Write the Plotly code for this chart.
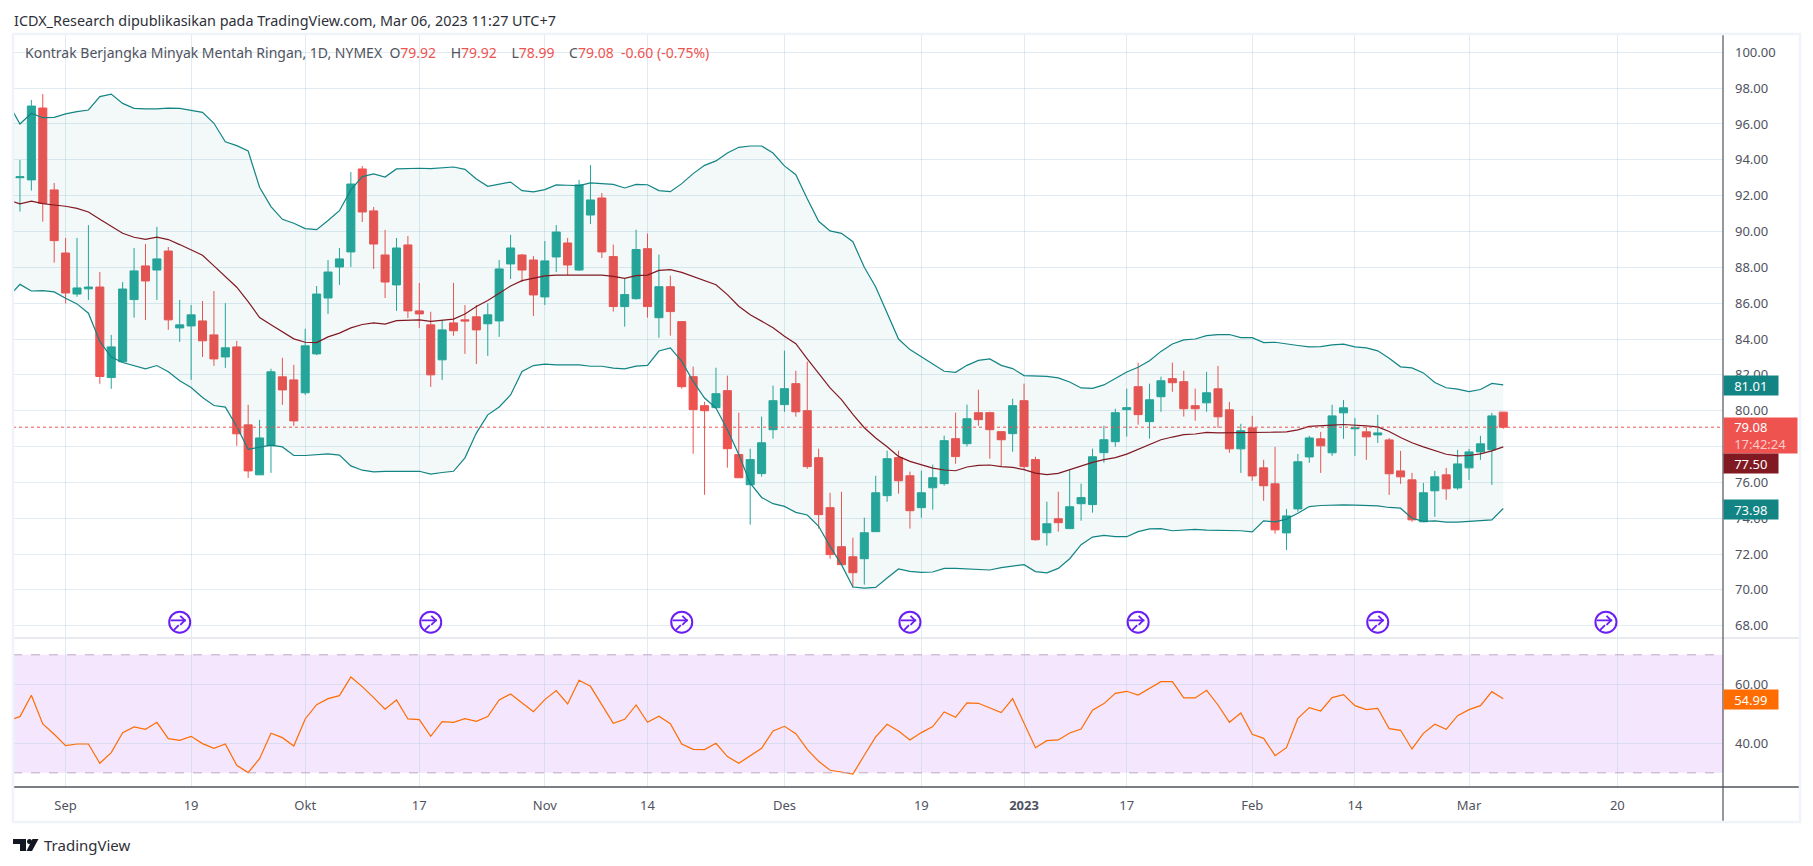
import plotly.graph_objects as go

W, H = 1813, 866
FONT = "Noto Sans"

bar_idx = list(range(-4, 127))
opens = [93.0, 92.88, 96.89, 92.32, 88.8, 86.51, 86.8, 86.9, 81.85, 82.73,
         86.2, 88.08, 87.85, 88.91, 84.62, 84.73, 85.01, 84.23, 83.0, 83.56,
         79.21, 76.42, 78.04, 81.89, 81.72, 81.0, 83.17, 86.29, 88.02, 88.86,
         93.49, 91.15, 88.69, 87.02, 89.25, 85.57, 84.79, 82.84, 84.9, 85.07,
         85.24, 84.85, 85.01, 88.19, 88.69, 88.41, 86.35, 88.58, 89.36, 87.85,
         90.92, 91.87, 88.6, 85.81, 86.25, 89.04, 85.19, 86.92, 84.97, 81.9,
         80.28, 80.17, 81.12, 77.55, 75.87, 76.49, 78.94, 80.34, 81.51, 80.0,
         77.38, 74.59, 72.41, 71.85, 71.74, 73.25, 75.26, 77.38, 76.37, 74.59,
         75.7, 75.93, 78.44, 78.16, 79.89, 79.89, 78.83, 78.72, 80.56, 77.27,
         73.19, 73.97, 73.42, 74.81, 74.76, 77.66, 78.27, 80.06, 81.34, 79.39,
         80.78, 81.79, 81.62, 80.28, 80.44, 81.22, 80.05, 77.87, 79.04, 76.81,
         75.92, 73.18, 74.52, 77.42, 78.43, 77.65, 79.88, 78.99, 78.82, 78.65,
         78.37, 76.64, 76.14, 73.8, 75.53, 76.42, 75.69, 76.81, 77.7, 77.82,
         79.92]
highs = [93.99, 97.34, 97.67, 92.71, 89.64, 89.64, 90.36, 87.74, 84.23, 87.18,
         89.08, 89.3, 90.26, 89.14, 86.18, 85.9, 86.12, 86.68, 86.0, 83.9,
         80.33, 79.49, 82.34, 82.95, 82.56, 84.57, 86.96, 88.41, 89.08, 93.32,
         93.66, 91.37, 90.09, 89.64, 89.75, 87.13, 85.52, 85.01, 87.13, 85.9,
         85.9, 86.0, 88.41, 89.81, 88.75, 88.63, 89.47, 90.36, 89.64, 92.88,
         93.71, 92.15, 89.27, 87.37, 90.1, 89.88, 88.71, 87.54, 84.97, 82.46,
         80.5, 82.4, 81.96, 79.89, 77.88, 79.67, 81.4, 83.35, 82.23, 82.74,
         77.88, 75.42, 75.48, 72.91, 74.03, 76.37, 77.77, 77.77, 76.6, 76.65,
         76.99, 78.61, 79.89, 80.34, 81.17, 79.94, 78.83, 80.67, 81.51, 77.43,
         74.92, 75.48, 76.71, 75.93, 77.88, 79.16, 80.11, 81.23, 82.68, 81.51,
         81.9, 82.68, 82.23, 81.23, 82.17, 82.5, 80.49, 79.27, 79.71, 77.26,
         77.98, 74.52, 77.59, 78.6, 78.82, 80.33, 80.6, 79.6, 79.1, 79.77,
         78.48, 77.76, 76.53, 75.97, 76.64, 76.81, 77.82, 77.87, 78.6, 79.88,
         79.92]
lows = [91.11, 92.28, 90.55, 88.26, 85.99, 86.36, 86.18, 81.5, 81.22, 82.7,
        85.19, 85.06, 86.18, 84.51, 83.84, 81.72, 83.0, 82.5, 82.39, 78.04,
        76.25, 76.42, 76.53, 80.33, 79.15, 80.88, 83.1, 85.4, 87.02, 88.02,
        90.53, 87.91, 86.29, 85.57, 85.17, 84.62, 81.33, 81.72, 84.18, 83.17,
        82.61, 83.06, 84.12, 87.35, 87.18, 85.29, 85.9, 87.74, 87.57, 87.8,
        90.42, 88.52, 85.53, 84.69, 86.2, 85.19, 84.08, 84.19, 81.23, 77.6,
        75.31, 80.11, 76.82, 76.26, 73.64, 76.32, 78.44, 79.94, 79.67, 76.76,
        73.42, 71.74, 71.41, 70.12, 70.29, 73.25, 74.92, 75.37, 73.42, 74.03,
        74.48, 75.82, 77.04, 78.0, 79.16, 77.32, 76.88, 77.71, 76.71, 72.75,
        72.47, 73.25, 73.42, 73.86, 74.31, 77.1, 77.99, 78.55, 79.22, 78.44,
        79.94, 81.06, 79.67, 79.44, 79.94, 79.04, 77.65, 76.53, 76.09, 74.97,
        73.13, 72.23, 74.36, 77.09, 76.53, 77.48, 78.43, 77.48, 77.26, 78.2,
        75.3, 75.92, 73.8, 73.8, 74.08, 75.03, 75.58, 76.14, 77.26, 75.86,
        78.99]
closes = [93.05, 97.0, 91.57, 89.49, 86.57, 86.85, 86.9, 81.91, 83.56, 86.79,
          87.8, 87.24, 88.47, 85.07, 84.79, 85.35, 83.9, 82.89, 83.51, 78.71,
          76.64, 78.48, 82.17, 81.16, 79.43, 83.62, 86.51, 87.74, 88.47, 92.65,
          91.09, 89.3, 87.18, 89.08, 85.57, 85.4, 82.0, 84.51, 84.46, 85.01,
          84.51, 85.35, 87.91, 89.08, 87.85, 86.46, 88.36, 89.97, 88.13, 92.6,
          91.76, 88.86, 85.81, 86.48, 88.99, 85.81, 86.92, 85.53, 81.34, 80.06,
          80.0, 80.95, 77.88, 76.26, 77.27, 78.21, 80.56, 81.23, 79.94, 76.88,
          74.2, 71.97, 71.41, 70.96, 73.19, 75.42, 77.32, 76.09, 74.42, 75.42,
          76.26, 78.33, 77.44, 79.55, 79.5, 78.94, 78.38, 80.28, 76.88, 72.8,
          73.69, 73.75, 74.64, 75.15, 77.43, 78.38, 79.89, 80.17, 79.78, 80.61,
          81.67, 81.56, 80.11, 80.11, 81.0, 79.66, 77.87, 78.88, 76.36, 75.81,
          73.35, 74.13, 77.15, 78.48, 78.04, 79.71, 80.16, 79.04, 78.54, 78.76,
          76.48, 76.31, 73.91, 75.42, 76.31, 75.64, 77.03, 77.7, 78.15, 79.71,
          79.08]

band_idx = list(range(-5, 127))
bb_upper = [97.15, 96.0, 96.6, 96.35, 96.37, 96.56, 96.69, 96.78, 97.53, 97.67,
            97.15, 96.87, 96.84, 96.84, 96.89, 96.87, 96.76, 96.65, 96.04, 95.01,
            94.79, 94.49, 92.47, 91.39, 90.68, 90.46, 90.16, 90.1, 90.61, 91.16,
            92.32, 93.06, 93.21, 93.04, 93.49, 93.53, 93.53, 93.51, 93.56, 93.6,
            93.47, 92.93, 92.52, 92.65, 92.76, 92.28, 92.21, 92.34, 92.6, 92.58,
            92.56, 92.71, 92.67, 92.63, 92.43, 92.63, 92.61, 92.28, 92.22, 92.67,
            93.23, 93.69, 93.94, 94.38, 94.7, 94.77, 94.77, 94.38, 93.66, 93.17,
            91.83, 90.57, 90.03, 89.9, 89.43, 88.0, 86.9, 85.45, 84.0, 83.41,
            83.02, 82.63, 82.2, 82.14, 82.53, 82.81, 82.89, 82.53, 82.35, 81.96,
            81.92, 81.92, 81.83, 81.6, 81.27, 81.25, 81.44, 81.81, 82.16, 82.42,
            82.79, 83.31, 83.72, 83.95, 84.0, 84.19, 84.25, 84.25, 84.08, 84.08,
            83.8, 83.82, 83.75, 83.64, 83.56, 83.58, 83.67, 83.71, 83.56, 83.51,
            83.34, 82.93, 82.45, 82.39, 82.11, 81.57, 81.28, 81.2, 81.07, 81.18,
            81.52, 81.44]
bb_basis = [91.75, 91.54, 91.69, 91.56, 91.48, 91.41, 91.29, 91.09, 90.68, 90.27,
            89.9, 89.68, 89.56, 89.68, 89.55, 89.27, 88.99, 88.67, 88.08, 87.48,
            86.89, 86.09, 85.2, 84.79, 84.38, 84.01, 83.82, 83.8, 84.12, 84.33,
            84.62, 84.81, 84.9, 84.83, 85.03, 85.07, 85.07, 84.98, 85.05, 85.11,
            85.4, 85.81, 86.15, 86.55, 86.96, 87.26, 87.39, 87.52, 87.56, 87.56,
            87.56, 87.59, 87.56, 87.5, 87.39, 87.54, 87.57, 87.83, 87.87, 87.72,
            87.48, 87.26, 87.03, 86.48, 85.83, 85.36, 85.01, 84.63, 84.15, 83.74,
            82.89, 82.07, 81.27, 80.62, 79.8, 79.05, 78.48, 77.99, 77.45, 77.17,
            76.99, 76.8, 76.69, 76.65, 76.86, 76.95, 76.97, 76.88, 76.84, 76.71,
            76.52, 76.43, 76.5, 76.71, 76.89, 77.12, 77.27, 77.38, 77.58, 77.84,
            78.1, 78.38, 78.53, 78.66, 78.7, 78.79, 78.76, 78.76, 78.76, 78.78,
            78.8, 78.8, 78.82, 78.93, 79.12, 79.14, 79.19, 79.23, 79.17, 79.15,
            79.1, 78.84, 78.5, 78.21, 77.98, 77.76, 77.57, 77.48, 77.5, 77.59,
            77.76, 77.98]
bb_lower = [86.36, 87.05, 86.68, 86.7, 86.63, 86.27, 85.96, 85.44, 83.86, 82.99,
            82.69, 82.52, 82.34, 82.52, 82.17, 81.67, 81.29, 80.74, 80.29, 80.2,
            79.12, 77.85, 77.96, 78.08, 77.98, 77.5, 77.5, 77.55, 77.59, 77.52,
            76.92, 76.68, 76.59, 76.61, 76.59, 76.61, 76.62, 76.46, 76.55, 76.62,
            77.37, 78.75, 79.77, 80.21, 80.88, 82.19, 82.52, 82.6, 82.56, 82.56,
            82.56, 82.48, 82.48, 82.38, 82.33, 82.49, 82.53, 83.33, 83.5, 82.75,
            81.64, 80.71, 80.15, 78.94, 77.55, 75.96, 75.16, 74.81, 74.66, 74.33,
            74.18, 73.55, 72.43, 71.41, 70.16, 70.1, 70.14, 70.66, 71.17, 71.03,
            70.98, 71.0, 71.2, 71.2, 71.17, 71.11, 71.11, 71.24, 71.32, 71.41,
            71.02, 70.95, 71.2, 71.74, 72.52, 72.95, 73.04, 72.97, 72.97, 73.25,
            73.4, 73.42, 73.3, 73.36, 73.38, 73.34, 73.33, 73.31, 73.3, 73.24,
            73.85, 73.8, 73.95, 74.28, 74.65, 74.71, 74.75, 74.75, 74.73, 74.71,
            74.69, 74.6, 74.56, 74.0, 73.82, 73.85, 73.78, 73.78, 73.82, 73.85,
            73.91, 74.54]
rsi = [47.8, 49.04, 56.27, 46.55, 43.05, 39.21, 39.77, 39.77, 33.22, 36.84,
       43.62, 45.54, 44.75, 47.12, 41.58, 41.02, 42.37, 39.89, 38.31, 39.77,
       32.54, 30.06, 34.8, 43.39, 41.92, 39.1, 48.25, 53.11, 55.14, 56.16,
       62.49, 59.21, 55.48, 51.53, 54.69, 48.25, 48.02, 42.37, 47.34, 47.12,
       48.36, 47.46, 49.04, 54.69, 56.72, 53.79, 50.73, 54.8, 57.85, 53.33,
       61.36, 59.32, 52.99, 46.78, 48.14, 52.99, 47.12, 49.15, 46.67, 39.77,
       37.97, 37.85, 40.0, 35.48, 33.22, 35.82, 38.31, 44.18, 45.76, 43.28,
       37.97, 33.9, 30.85, 30.28, 29.6, 35.93, 42.15, 46.44, 44.18, 41.13,
       43.62, 45.65, 50.62, 48.81, 53.67, 53.56, 51.98, 50.4, 55.14, 46.78,
       38.53, 40.9, 41.13, 43.5, 44.86, 51.19, 53.45, 56.95, 57.63, 56.38,
       58.53, 60.9, 60.9, 55.37, 55.37, 57.97, 52.99, 47.12, 50.28, 43.05,
       41.69, 35.82, 38.53, 48.47, 52.09, 50.96, 55.48, 56.5, 52.77, 51.41,
       51.86, 44.97, 44.41, 38.08, 43.39, 46.44, 44.75, 49.38, 51.41, 52.77,
       57.51, 55.14]

tick_idx = [0, 11, 21, 31, 42, 51, 63, 75, 84, 93, 104, 113, 123, 136]
tick_labels = ["Sep", "19", "Okt", "17", "Nov", "14", "Des", "19", "<b>2023</b>",
               "17", "Feb", "14", "Mar", "20"]
price_ticks = list(range(68, 101, 2))
rsi_ticks = [40, 60]
event_idx = [10, 32, 54, 74, 94, 115, 135]
event_level = 68.2

TEAL = "#26a69a"
RED = "#ef5350"
BAND = "#138484"
BASIS = "#801922"
ORANGE = "#ff6d00"
GRID = "rgba(180,205,225,0.4)"
AXIS_TXT = "#50535e"
PURPLE = "#6a1ef5"
NB = "\u00a0"


def px(x):
    return x / W


def py(y):
    return 1 - y / H


def event_marks(symbol, size, width, dx=0.0, dy=0.0):
    # dx, dy nudge the parts of the icon around its centre
    return go.Scatter(x=[i + dx for i in event_idx], y=[event_level + dy] * len(event_idx), mode="markers",
                      marker=dict(symbol=symbol, size=size, color=PURPLE, line=dict(color=PURPLE, width=width)))


PANE_L, PANE_R = 13, 1723
MAIN_T, MAIN_B = 34, 638
RSI_B = 787

fig = go.Figure()

fig.add_trace(go.Scatter(x=band_idx, y=bb_lower, mode="lines", line=dict(color=BAND, width=1.2)))
fig.add_trace(go.Scatter(x=band_idx, y=bb_upper, mode="lines", line=dict(color=BAND, width=1.2),
                         fill="tonexty", fillcolor="rgba(19,132,132,0.05)"))
fig.add_trace(go.Scatter(x=band_idx, y=bb_basis, mode="lines", line=dict(color=BASIS, width=1.2)))
fig.add_trace(go.Candlestick(x=bar_idx, open=opens, high=highs, low=lows, close=closes,
                             increasing=dict(line=dict(color=TEAL, width=1), fillcolor=TEAL),
                             decreasing=dict(line=dict(color=RED, width=1), fillcolor=RED),
                             whiskerwidth=0))

# the little purple event markers under the candles
fig.add_trace(event_marks("circle-open", 21, 2))
fig.add_trace(event_marks("line-ew-open", 11, 1.8, dx=-0.12, dy=0.1))
fig.add_trace(event_marks("line-nw-open", 5, 1.8, dx=0.27, dy=0.21))
fig.add_trace(event_marks("line-ne-open", 5, 1.8, dx=0.27, dy=-0.01))
fig.add_trace(event_marks("line-ne-open", 5, 1.8, dx=-0.3, dy=-0.3))

fig.add_trace(go.Scatter(x=band_idx, y=rsi, mode="lines", line=dict(color=ORANGE, width=1.2),
                         xaxis="x2", yaxis="y2"))

fig.update_traces(showlegend=False, hoverinfo="skip")

shapes = [
    # rsi band
    dict(type="rect", xref="paper", yref="y2", x0=px(PANE_L), x1=px(PANE_R), y0=30, y1=70,
         fillcolor="#f4e6fd", line_width=0, layer="below"),
    dict(type="line", xref="paper", yref="y2", x0=px(PANE_L), x1=px(PANE_R), y0=70, y1=70,
         line=dict(color="#bcaac6", width=1, dash="dash")),
    dict(type="line", xref="paper", yref="y2", x0=px(PANE_L), x1=px(PANE_R), y0=30, y1=30,
         line=dict(color="#bcaac6", width=1, dash="dash")),
    # last price line
    dict(type="line", xref="paper", yref="y", x0=px(PANE_L), x1=px(PANE_R), y0=closes[-1], y1=closes[-1],
         line=dict(color=RED, width=1, dash="dot")),
    # pane separator and scale lines
    dict(type="line", xref="paper", yref="paper", x0=px(PANE_L), x1=px(1800), y0=py(MAIN_B), y1=py(MAIN_B),
         line=dict(color="#e0e3eb", width=1.5)),
    dict(type="line", xref="paper", yref="paper", x0=px(PANE_L), x1=px(1800), y0=py(RSI_B), y1=py(RSI_B),
         line=dict(color="#50535e", width=1.5)),
    dict(type="line", xref="paper", yref="paper", x0=px(PANE_R), x1=px(PANE_R), y0=py(MAIN_T), y1=py(822),
         line=dict(color="#50535e", width=1.2)),
    # outer frame
    dict(type="rect", xref="paper", yref="paper", x0=px(13), x1=px(1800), y0=py(34), y1=py(822),
         line=dict(color="#f0f3fa", width=2.5)),
    # logo
    dict(type="path", xref="paper", yref="paper", fillcolor="#131722", line_width=0,
         path="M {} {} L {} {} L {} {} L {} {} L {} {} L {} {} Z".format(
             px(13), py(839), px(26), py(839), px(26), py(851), px(20), py(851), px(20), py(844), px(13), py(844))),
    dict(type="circle", xref="paper", yref="paper", fillcolor="#131722", line_width=0,
         x0=px(27), x1=px(32), y0=py(844), y1=py(839)),
    dict(type="path", xref="paper", yref="paper", fillcolor="#131722", line_width=0,
         path="M {} {} L {} {} L {} {} L {} {} Z".format(
             px(32.5), py(839), px(38.5), py(839), px(32), py(851), px(26.5), py(851))),
]


def label(text, top, bottom, right, color):
    return dict(text=text, xref="paper", yref="paper", x=px(PANE_R), y=py((top + bottom) / 2),
                xanchor="left", yanchor="middle", width=right - PANE_R, height=bottom - top,
                bgcolor=color, showarrow=False, align="left", borderpad=0,
                font=dict(family=FONT, size=13, color="white"))


pad = NB * 3
red_txt = "<span style='color:#ef5350'>{}</span>"
annotations = [
    dict(text="ICDX_Research dipublikasikan pada TradingView.com, Mar 06, 2023 11:27 UTC+7",
         xref="paper", yref="paper", x=px(12), y=py(20), xanchor="left", yanchor="middle",
         showarrow=False, font=dict(family=FONT, size=14.4, color="#2e3038")),
    dict(text="Kontrak Berjangka Minyak Mentah Ringan, 1D, NYMEX" + NB * 2
              + "O" + red_txt.format("79.92") + NB * 4 + "H" + red_txt.format("79.92") + NB * 4
              + "L" + red_txt.format("78.99") + NB * 4 + "C" + red_txt.format("79.08") + NB * 2
              + red_txt.format("-0.60 (-0.75%)"),
         xref="paper", yref="paper", x=px(23), y=py(53), xanchor="left", yanchor="middle",
         showarrow=False, font=dict(family=FONT, size=14, color=AXIS_TXT)),
    dict(text="TradingView", xref="paper", yref="paper", x=px(42), y=py(845), xanchor="left", yanchor="middle",
         showarrow=False, font=dict(family=FONT, size=15, color="#2e3038")),
    label(pad + "81.01", 376, 395, 1777, BAND),
    label(pad + "79.08<br>" + pad + "<span style='color:rgba(255,255,255,0.7)'>17:42:24</span>", 418, 453, 1796, RED),
    label(pad + "77.50", 454, 473, 1777, BASIS),
    label(pad + "73.98", 500, 519, 1777, BAND),
    label(pad + "54.99", 690, 709, 1777, ORANGE),
]

xrange = [(PANE_L - 65.6) / 11.41, (PANE_R - 65.6) / 11.41]
xcommon = dict(range=xrange, domain=[px(PANE_L), px(PANE_R)], tickmode="array", tickvals=tick_idx,
               showgrid=True, gridcolor=GRID, gridwidth=1, zeroline=False, showline=False, fixedrange=True)

fig.update_layout(
    width=W, height=H,
    margin=dict(l=0, r=0, t=0, b=0),
    paper_bgcolor="white", plot_bgcolor="rgba(0,0,0,0)",
    showlegend=False, boxgap=0.12, boxgroupgap=0.2,
    shapes=shapes, annotations=annotations,
    xaxis=dict(xcommon, anchor="y", showticklabels=False, ticks="", rangeslider=dict(visible=False)),
    xaxis2=dict(xcommon, anchor="y2", ticktext=tick_labels, ticks="outside", ticklen=6, tickcolor="rgba(0,0,0,0)",
                tickfont=dict(family=FONT, size=13, color=AXIS_TXT)),
    yaxis=dict(domain=[py(MAIN_B), py(MAIN_T)], range=[100 - (MAIN_B - 52.3) / 17.92, 100 + (52.3 - MAIN_T) / 17.92],
               side="right", anchor="x", tickmode="array", tickvals=price_ticks, tickformat=".2f",
               showgrid=True, gridcolor=GRID, gridwidth=1, zeroline=False, ticks="", ticklabelstandoff=11,
               tickfont=dict(family=FONT, size=13, color=AXIS_TXT)),
    yaxis2=dict(domain=[py(RSI_B), py(MAIN_B)], range=[60 - (RSI_B - 684.3) / 2.95, 60 + (684.3 - MAIN_B) / 2.95],
                side="right", anchor="x2", tickmode="array", tickvals=rsi_ticks, tickformat=".2f",
                showgrid=True, gridcolor=GRID, gridwidth=1, zeroline=False, ticks="", ticklabelstandoff=11,
                tickfont=dict(family=FONT, size=13, color=AXIS_TXT)),
)

fig.write_html("out.html", config=dict(displayModeBar=False),
               post_script="document.body.style.margin='0';")
